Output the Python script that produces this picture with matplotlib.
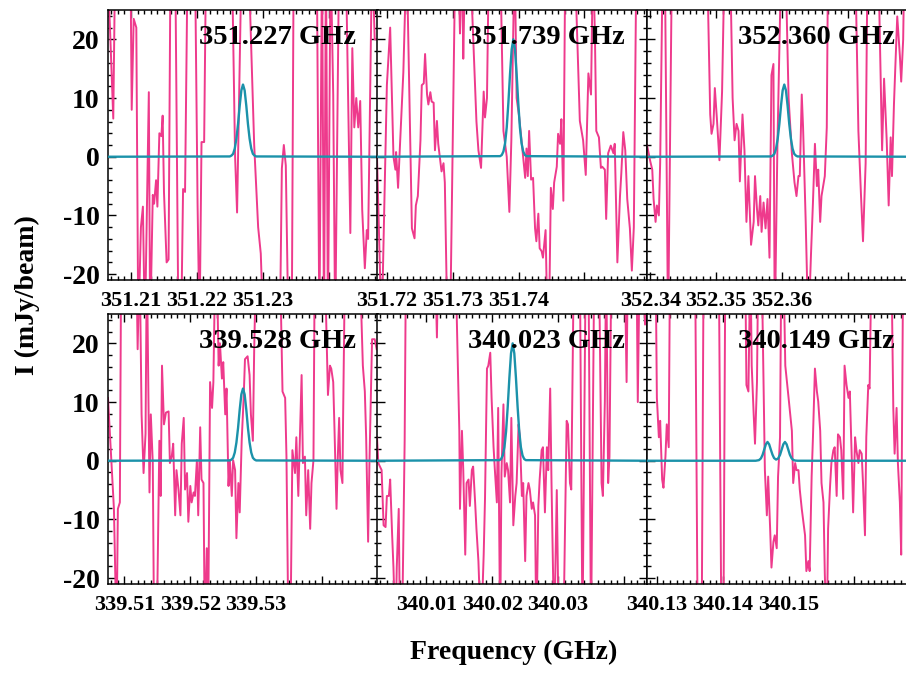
import numpy as np
import matplotlib.pyplot as plt
from matplotlib import ticker

plt.rcParams['font.family'] = ['Liberation Serif', 'DejaVu Serif']
plt.rcParams['font.weight'] = 'bold'
plt.rcParams['axes.unicode_minus'] = False

PINK = '#ee3a8c'
TEAL = '#1b92aa'

# line frequencies (GHz), panels left->right, top->bottom
line_ghz = [351.227, 351.739, 352.360, 339.528, 340.023, 340.149]
titles = ['351.227 GHz', '351.739 GHz', '352.360 GHz',
          '339.528 GHz', '340.023 GHz', '340.149 GHz']
half_width_mhz = 20.5

xticks_ghz = [[351.21, 351.22, 351.23, 351.24],
              [351.72, 351.73, 351.74, 351.75],
              [352.34, 352.35, 352.36, 352.37],
              [339.51, 339.52, 339.53, 339.54],
              [340.01, 340.02, 340.03, 340.04],
              [340.13, 340.14, 340.15, 340.16]]
xtick_labels = [['351.21', '351.22', '351.23', ''],
                ['351.72', '351.73', '351.74', ''],
                ['352.34', '352.35', '352.36', ''],
                ['339.51', '339.52', '339.53', ''],
                ['340.01', '340.02', '340.03', ''],
                ['340.13', '340.14', '340.15', '']]

# observed spectra: offset from line (MHz), intensity (mJy/beam)
tl_off = [-20.5, -20.2, -19.7, -19.4, -17.1, -16.9, -16.6, -16.2, -15.9, -15.5, -15.2, -14.9, -14.3, -14.1,
          -13.7, -13.5, -13.2, -13.0, -12.7, -12.4, -12.2, -12.0, -11.6, -11.3, -11.0, -10.3, -9.8, -9.4,
          -9.1, -8.8, -8.4, -7.3, -6.9, -6.6, -6.3, -5.9, -5.6, -1.7, -1.2, -0.9, -0.2, 0.8, 1.7, 2.3,
          2.7, 3.1, 5.6, 5.9, 6.2, 6.5, 6.9, 7.4, 7.7, 11.2, 11.6, 12.0, 12.3, 12.6, 12.9, 13.3, 13.7,
          14.0, 14.6, 15.6, 16.0, 16.3, 16.6, 16.9, 17.2, 17.5, 17.8, 18.1, 18.5, 18.8, 19.0, 19.3,
          19.6, 20.0, 20.3]
tl_val = [30, 22, 6.5, 35, 35, 8, 23.5, 22, -30, -12, -8.5, -30, 11, -30,
          -6.5, -8, -4, -8.5, 4, 3.5, 7, -6, -18, -17.5, 35, 35, -30, -30,
          -5.5, -6, 35, 35, -8, -30, 2.5, 2.5, 35, 35, 0, -9.5, 35, 35, 2, -12,
          -16.5, -30, -30, -2, 2, -1.5, -30, -30, 35, 35, -30, 35, -30, 35, -30, 35, 10.5,
          -30, 35, 35, 7.5, -13, 18.5, 5, 10, 5, 9.5, -9, -19, -12.5, -14, 10,
          35, 20, 20]

tm_off = [-20.5, -19.8, -19.0, -18.5, -18.0, -17.7, -17.6, -17.3, -17.0, -16.5, -16.0, -15.2, -14.8,
          -14.6, -14.3, -13.9, -13.7, -13.4, -13.2, -12.9, -12.7, -12.4, -12.2, -11.9, -11.7, -11.4,
          -11.2, -10.7, -10.4, -10.2, -9.8, -9.4, -8.6, -8.2, -7.9, -7.6, -7.4, -7.1, -6.4, -5.4, -5.1,
          -4.7, -4.3, -4.1, -3.8, -3.5, -1.8, -1.3, -0.8, -0.4, -0.1, 0.4, 0.7, 1.1, 1.5, 2.0, 2.2,
          2.4, 2.6, 2.9, 3.2, 3.5, 3.7, 4.0, 4.2, 4.5, 4.7, 5.1, 5.4, 5.6, 5.9, 6.2, 6.4, 6.8, 7.0,
          7.3, 7.5, 7.8, 8.1, 9.5, 10.3, 10.8, 11.2, 11.6, 12.0, 12.3, 12.6, 12.8, 13.2, 13.5, 13.7,
          14.1, 14.3, 14.6, 15.0, 15.4, 15.6, 16.0, 16.4, 16.6, 16.9, 17.2, 17.5, 17.9, 18.2, 18.5,
          18.9, 20.5]
tm_val = [0, -30, 12.2, 22, 0, -2.2, 0.8, -5.3, 2.2, 14.4, 35, -12.2, -13.9,
          -8.3, -6.7, 2.8, 12.2, 12.5, 17.5, 10.6, 8.9, 11, 9.4, 9.2, 1.1, 6.1,
          2.2, -2.5, -1.1, -4.4, -30, -30, 35, 35, 21, 35, 16.7, 35, 35, 6, 1.1,
          -1.9, 11.1, 6.7, 10, 35, 35, 4.4, 0, -9.4, 2.8, 35, 10, 6.7, 2.2, -3.6, 1.4,
          -3.3, 4.4, -3.9, -3.6, -12.2, -14.4, -9.7, -15.6, -16.1, -17.2, -12.5, -30, -30, -5.3, -8.9, -4.4, -1.7, 3.9,
          2.2, 6.4, -7.5, 35, 35, 6.1, 2.8, -3.1, 14.2, 10.6, 35, 20, 4.4, 3.3, -1.9, -1.7,
          -2.2, -10.6, 0.6, 1.9, 0.6, 2.2, -18, -6.7, -2.8, 4.2, 1.1, -7.2, -12.2, -19.4, -12,
          35, 35]

tr_off = [-20.5, -20.0, -19.7, -19.5, -19.2, -19.0, -18.7, -18.5, -18.1, -17.8, -17.3, -16.7, -11.4,
          -10.9, -10.7, -10.4, -10.2, -9.9, -9.5, -9.1, -8.7, -7.9, -7.5, -7.2, -6.9, -6.6, -6.4,
          -6.0, -5.7, -5.4, -5.1, -4.7, -4.3, -4.1, -3.8, -3.6, -3.3, -3.1, -2.8, -2.5, -2.2, -1.9,
          -1.6, -1.3, -1.1, -0.7, -0.1, 0.5, 1.0, 1.5, 1.9, 2.2, 2.5, 2.7, 3.0, 3.2, 3.6, 4.0, 4.4,
          4.7, 5.0, 5.3, 5.5, 5.8, 6.0, 6.5, 6.8, 7.0, 11.1, 11.6, 12.0, 12.3, 12.7, 13.0, 14.6,
          15.2, 15.5, 15.9, 16.2, 16.5, 16.7, 17.0, 17.2, 17.5, 17.9, 18.1, 18.4, 18.6, 20.5]
tr_val = [2, -0.8, -2.2, -7.2, -11.1, -8.3, -10, -1, 35, 35, -30, 35, 35,
          7.2, 3.9, 5.6, 11.7, 6.7, -0.6, 11.1, 35, 35, 10, 2.8, 5.6, 4.4, -4.2,
          7.2, 1.1, -11.1, -3.3, -15, -11.1, -3.3, -8.9, -11.7, -6.7, -12.8, -7.8, -12.2, -7.2, -17.2,
          13.9, 15.8, -30, 1.7, 35, 35, 10, 0.6, -4.4, -6.7, -3.3, -3.3, 10.6, 5, -11.1, -30, -16.7,
          -7.8, 2.2, -5, -2.2, -11.1, -6.7, -3.3, 5, 35, 35, 4.4, -6.7, -14.4, -1.1, 35, 35,
          1.1, 13.3, 2.8, -8.3, 3.3, -3.3, 8.9, 15, 23.9, 17.2, 12.8, 20, 35, 35]

bl_off = [-20.5, -19.6, -19.2, -19.0, -18.7, -18.5, -16.2, -16.0, -15.7, -15.4, -15.1, -14.8, -14.6,
          -14.2, -14.0, -13.7, -13.5, -13.1, -12.7, -12.5, -12.3, -12.0, -11.7, -11.3, -11.1, -10.8,
          -10.6, -10.3, -10.1, -9.8, -9.5, -9.3, -9.0, -8.8, -8.5, -8.3, -8.0, -7.8, -7.5, -7.3, -7.0,
          -6.8, -6.5, -6.3, -6.0, -5.8, -5.5, -5.3, -5.0, -4.7, -4.5, -4.2, -4.0, -3.7, -3.5, -3.2,
          -3.0, -2.7, -2.5, -2.2, -2.0, -1.7, -1.5, -1.2, -1.0, -0.7, -0.5, -0.2, 0.1, 0.3, 0.7, 1.0,
          1.2, 1.5, 1.7, 2.0, 5.6, 6.0, 6.4, 6.6, 6.9, 7.2, 7.5, 7.9, 8.1, 8.4, 8.6, 8.9, 9.1, 9.4,
          9.6, 9.9, 10.2, 10.4, 10.7, 10.9, 12.4, 12.9, 13.2, 13.4, 13.7, 13.9, 14.2, 14.4, 14.6,
          14.8, 15.1, 15.2, 15.5, 17.7, 18.2, 18.5, 18.7, 19.0, 19.2, 19.6, 20.0, 20.3]
bl_val = [10.7, -8.2, -30, -8.2, -7.1, 35, 35, 19, 35, 7.9, -2.1, 4.6, 35,
          -5.4, 7.9, -0.4, -30, -30, 3.4, -6, 16.2, 6.2, 8.2, 8.4, -0.4, 0.9,
          2.9, -9.3, -1.6, -4.9, -9.3, 2.9, 7.3, -4.9, -2.1, -10.4, -4.3, -7.1, -5.4, -6, 0.1,
          -9.3, 5.7, -3.2, -3.8, -30, -14.9, -30, 13.4, 9, 13.4, 35, 35, 16.2, 20, 14,
          16.8, 7.9, 12.3, -4.3, 0.1, -6, 0.1, -1.6, -13.2, -3.8, -8.8, 3.4, 10.7, 17.3, 17.8, 14.6,
          7.9, 3.4, 19, 35, 35, 11.8, 10.7, 0.7, -30, -30, 1.8, -2.1, 4, -6, 2.3, 14.6, -0.4, 0.7,
          -9.3, -1.6, -11.6, -3.8, 0.1, 35, 35, 11.2, 16.2, 15.7, 13.4, 5.1, -8.2, 0.7, 7.3,
          -1.6, -3.8, 7.3, 35, 35, 16.2, 11.8, 4, -13.8, -0.4, 20.7, 20.7, 19]

bm_off = [-20.5, -20.3, -19.8, -19.5, -19.2, -19.0, -18.7, -18.5, -18.2, -18.0, -17.7, -17.5, -17.2,
          -17.0, -16.7, -16.3, -16.1, -11.7, -11.4, -11.2, -8.6, -8.0, -7.9, -7.6, -7.4, -7.1, -6.9,
          -6.6, -6.4, -6.1, -5.9, -5.6, -5.4, -5.1, -4.7, -4.3, -4.1, -3.8, -3.6, -3.3, -3.1, -2.8,
          -2.6, -2.3, -2.1, -1.8, -1.6, -1.3, -1.1, -0.8, -0.6, -0.3, -0.1, 0.2, 0.5, 0.7, 1.0, 1.2,
          1.5, 1.7, 2.0, 2.2, 2.5, 2.7, 3.0, 3.2, 3.5, 3.7, 4.0, 4.2, 4.5, 4.7, 5.0, 5.3, 5.5, 5.8,
          6.0, 6.4, 6.8, 7.1, 7.8, 8.3, 8.5, 8.8, 9.0, 9.4, 10.3, 10.7, 11.2, 11.6, 12.0, 12.5, 13.2,
          13.6, 13.8, 14.1, 14.3, 14.6, 14.8, 15.1, 17.1, 17.4, 17.6, 18.9, 19.1, 19.4, 19.9, 20.2,
          20.5]
bm_val = [4, -0.4, -1.6, -11, -11.3, -6, -6, -3.2, -12.7, -18.2, -30, -18.2, -8.2,
          -30, -30, 3.4, 35, 35, 21, 35, 35, 5.1, -8.2, 5.1, -1.6, -16, -3.8,
          -3.2, -7.7, -1.6, -1, -7.1, -11.6, -17.1, -30, -16, -6.5, 15.7, 16.2, 18.4, 10.7, 2.3,
          -1.6, -7.1, 9, -30, -2.1, 9.6, -2.7, -0.4, -1.6, -7.1, 7.3, -11, -6, -3.8, 6.2, 4,
          -6, -3.8, -17.1, -6, -3.8, -4.9, -8.2, -7.1, -9.3, -30, -7.7, -3.2, 1.8, 2.3, -8.8, 2.3, -1.6, 12.3,
          -3.8, -30, -5, -30, -30, 6.8, 6.2, -3.8, -4.9, 35, 35, -30, 35, 35, -30, 35, 35,
          -3.8, -6, 10.1, 35, -3.8, 0.7, 35, 35, 13.4, 35, 35, 10, 35, 35, 23.2,
          35]

br_off = [-20.5, -19.2, -19.0, -18.7, -18.5, -18.2, -18.0, -17.7, -17.5, -17.2, -17.0, -13.2, -12.8,
          -12.2, -11.9, -9.6, -9.2, -8.9, -8.6, -5.6, -5.4, -5.1, -4.8, -4.6, -4.3, -4.1, -3.8, -3.6,
          -3.1, -2.6, -2.3, -2.1, -1.8, -1.6, -1.3, -1.1, -0.8, -0.6, -0.3, -0.1, 0.2, 0.5, 1.0, 1.5,
          1.7, 2.0, 2.2, 2.5, 2.7, 3.0, 3.5, 3.7, 4.0, 4.2, 4.5, 4.7, 5.0, 5.3, 5.5, 5.8, 6.0, 6.3,
          6.5, 6.8, 7.0, 7.3, 7.5, 7.8, 8.0, 8.3, 8.5, 8.8, 9.0, 9.3, 9.5, 9.8, 10.1, 10.3, 10.6,
          10.8, 11.1, 11.3, 11.6, 11.8, 12.1, 12.3, 12.6, 12.8, 13.1, 13.3, 13.6, 16.6, 16.9, 17.1,
          17.4, 17.6, 17.9, 18.1, 18.4, 19.1, 20.5]
br_val = [35, 35, 10.7, 4, 6.8, -3.2, -4.6, 0.7, 6.2, 2.3, 35, 35, -30,
          -30, 35, 35, -30, -30, 35, 35, 12.9, 11.8, 35, 16.2, 7.9, 2.9, 13.4, 35,
          35, -1.6, -9.3, -2.7, -11.6, -18.2, -13.8, -12.7, -14.9, -2.7, 4, 35, 35, 16.2, 10.7, 5.1,
          -3.8, -0.4, -1.6, -1.6, -4.9, -8.2, -12.7, -18.8, -17.1, -18.8, -2.7, 4, 15.7, 11.8, 10.1, 5.1, -3.8, -7.1,
          -19.3, -30, -11.6, -4.3, -0.4, 1.8, 2.3, -6, 4.5, 4, 1.8, -6.5, 16.2, 12.9, 10.7, 11.8, 0.1,
          -8.8, 4, 1.8, -0.4, 1.8, 1.2, -3.8, -12.7, 4, 12.9, 12.3, 35, 35, 9, 1.2,
          9, -0.4, -7.1, -16, 35, 35, 35]

# fitted model (MHz offset, mJy/beam)
fit_off = [-20.5, -2.0, -1.75, -1.5, -1.25, -1.0, -0.75, -0.5, -0.25, 0.0,
           0.25, 0.5, 0.75, 1.0, 1.25, 1.5, 1.75, 2.0, 20.5]
fit_weak = [0, 0.05, 0.2, 0.5, 1.4, 3.1, 5.6, 8.7, 11.3, 12.3,
            11.3, 8.7, 5.6, 3.1, 1.4, 0.5, 0.2, 0.05, 0]
fit_strong = [0, 0.1, 0.3, 0.9, 2.3, 5.0, 9.2, 14.1, 18.3, 20.0,
              18.3, 14.1, 9.2, 5.0, 2.3, 0.9, 0.3, 0.1, 0]
fit_shift = [0.0, 0.2, 0.35, 0.0, 0.1]
br_fit_off = [-20.5, -4.0, -3.5, -3.2, -2.95, -2.7, -2.45, -2.2, -1.95, -1.7, -1.45, -1.2,
              -0.9, -0.6, -0.3, -0.05, 0.2, 0.45, 0.7, 0.95, 1.2, 1.45, 1.7, 2.0, 2.4, 20.5]
br_fit_val = [0, 0, 0.1, 0.4, 1.0, 1.9, 2.8, 3.2, 2.8, 1.9, 1.05, 0.45,
              0.2, 0.37, 1.0, 1.9, 2.8, 3.2, 2.8, 1.9, 1.0, 0.43, 0.14, 0.03, 0, 0]

spec_off = [tl_off, tm_off, tr_off, bl_off, bm_off, br_off]
spec_val = [tl_val, tm_val, tr_val, bl_val, bm_val, br_val]
fits = [fit_weak, fit_strong, fit_weak, fit_weak, fit_strong]

W, H = 906, 673
fig = plt.figure(figsize=(W / 100, H / 100), dpi=100)

col_left = [108, 377, 647]
row_top = [10, 314]
pw, ph = 270, 270

for i in range(6):
    r, c = divmod(i, 3)
    ax = fig.add_axes([col_left[c] / W, 1 - (row_top[r] + ph) / H, pw / W, ph / H])
    f0 = line_ghz[i]
    x = f0 + np.array(spec_off[i]) / 1000.0
    ax.plot(x, spec_val[i], color=PINK, lw=1.4, zorder=2)
    if i < 5:
        xf = f0 + (np.array(fit_off) + fit_shift[i]) / 1000.0
        ax.plot(xf, fits[i], color=TEAL, lw=1.7, zorder=3)
    else:
        xf = f0 + np.array(br_fit_off) / 1000.0
        ax.plot(xf, br_fit_val, color=TEAL, lw=1.7, zorder=3)

    ax.set_xlim(f0 - half_width_mhz / 1000.0, f0 + half_width_mhz / 1000.0)
    ax.set_ylim(-21, 25)
    ax.set_xticks(xticks_ghz[i])
    ax.set_xticklabels(xtick_labels[i])
    ax.xaxis.set_minor_locator(ticker.MultipleLocator(0.001))
    ax.set_yticks([-20, -10, 0, 10, 20])
    ax.yaxis.set_minor_locator(ticker.MultipleLocator(2))
    ax.tick_params(which='both', direction='in', top=True, right=True, width=1.0)
    ax.tick_params(which='major', length=6)
    ax.tick_params(which='minor', length=3)
    ax.tick_params(axis='x', labelsize=16, pad=8)
    ax.tick_params(axis='y', labelsize=20, pad=6)
    if c != 0:
        ax.set_yticklabels([])
    for s in ax.spines.values():
        s.set_linewidth(1.1)
    ax.text(0.918, 0.874, titles[i], transform=ax.transAxes, ha='right',
            va='baseline', fontsize=20.5, fontweight='bold', zorder=5)

fig.text(0.567, 0.031, 'Frequency (GHz)', ha='center', va='center', fontsize=20, fontweight='bold')
fig.text(0.030, 0.562, 'I (mJy/beam)', ha='center', va='center', rotation=90,
         fontsize=20, fontweight='bold')

plt.savefig('out.png', dpi=100)
